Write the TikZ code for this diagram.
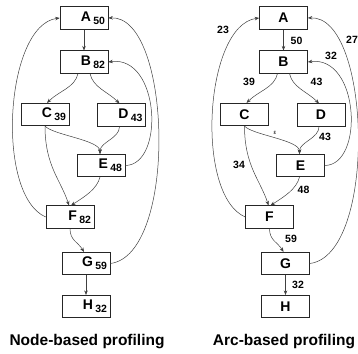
\documentclass[tikz,border=0pt]{standalone}
\usepackage{fontspec}
\setmainfont{Liberation Sans}
\usetikzlibrary{arrows.meta}
\newcommand\nsub[1]{\,\raisebox{-3pt}{\fontsize{10.5}{10.5}\selectfont #1}}
\begin{document}
\begin{tikzpicture}[x=1pt,y=-1pt,
  box/.style={draw=black!85, line width=0.6pt, minimum width=48pt, minimum height=22.5pt, inner sep=0pt, font=\fontsize{14}{14}\selectfont\bfseries},
  nbox/.style={box, text width=42pt, align=right},
  edge/.style={draw=black!75, line width=0.5pt, -{Stealth[length=4.5pt,width=3.5pt]}},
  elab/.style={font=\fontsize{10.5}{10.5}\selectfont\bfseries, inner sep=0pt},
  title/.style={font=\fontsize{15.5}{15.5}\selectfont\bfseries, inner sep=0pt}]
\useasboundingbox (0,0) rectangle (358,353);

% ---------- Node-based profiling ----------
\node[nbox] (lA) at (84,18) {A\nsub{50}};
\node[nbox] (lB) at (84,62) {B\nsub{82}};
\node[nbox] (lC) at (45,114.5) {C\nsub{39}};
\node[nbox] (lD) at (121.5,115) {D\nsub{43}};
\node[nbox] (lE) at (101,165.5) {E\nsub{48}};
\node[nbox] (lF) at (70,217) {F\nsub{82}};
\node[nbox] (lG) at (86,263.5) {G\nsub{59}};
\node[nbox] (lH) at (86,306.5) {H\nsub{32}};

\draw[edge] (lA) -- (lB);
\draw[edge] ([xshift=-6pt]lB.south) .. controls +(-3,14) and +(12,-12) .. ([xshift=2pt]lC.north);
\draw[edge] ([xshift=6pt]lB.south) .. controls +(3,14) and +(-12,-12) .. ([xshift=-2pt]lD.north);
\draw[edge] (lC.south) .. controls +(8,9) and +(0,-14) .. ([xshift=-1pt]lE.north);
\draw[edge] ([xshift=-2pt]lD.south) .. controls +(0,12) and +(0,-12) .. ([xshift=-1pt]lE.north);
\draw[edge] (lC.south) .. controls +(0,40) and +(-8,-25) .. ([xshift=-1pt]lF.north);
\draw[edge] ([xshift=-1pt]lE.south) .. controls +(-3,12) and +(14,-9) .. ([xshift=1pt]lF.north);
\draw[edge] (lF.west) .. controls (-5,195) and (5,25) .. (lA.west);
\draw[edge] (lE.east) .. controls (165,165) and (160,55) .. (lB.east);
\draw[edge] (lG.east) .. controls (178,255) and (172,15) .. (lA.east);
\draw[edge] (lF.south) .. controls +(0,12) and +(-6,-10) .. ([xshift=-2pt]lG.north);
\draw[edge] (lG) -- (lH);

\node[title] (t1) at (87,342) {Node-based profiling};

% ---------- Arc-based profiling ----------
\begin{scope}[xshift=199.5pt]
\node[box] (rA) at (84,18) {A};
\node[box] (rB) at (84,62) {B};
\node[box] (rC) at (45,114.5) {C};
\node[box] (rD) at (121.5,115) {D};
\node[box] (rE) at (101,165.5) {E};
\node[box] (rF) at (70,217) {F};
\node[box] (rG) at (86,263.5) {G};
\node[box] (rH) at (86,306.5) {H};

\draw[edge] (rA) -- (rB);
\draw[edge] ([xshift=-6pt]rB.south) .. controls +(-3,14) and +(12,-12) .. ([xshift=2pt]rC.north);
\draw[edge] ([xshift=6pt]rB.south) .. controls +(3,14) and +(-12,-12) .. ([xshift=-2pt]rD.north);
\draw[edge] (rC.south) .. controls +(8,9) and +(0,-14) .. ([xshift=-1pt]rE.north);
\draw[edge] ([xshift=-2pt]rD.south) .. controls +(0,12) and +(0,-12) .. ([xshift=-1pt]rE.north);
\draw[edge] (rC.south) .. controls +(0,40) and +(-8,-25) .. ([xshift=-1pt]rF.north);
\draw[edge] ([xshift=-1pt]rE.south) .. controls +(-3,12) and +(14,-9) .. ([xshift=1pt]rF.north);
\draw[edge] (rF.west) .. controls (-5,195) and (5,25) .. (rA.west);
\draw[edge] (rE.east) .. controls (165,165) and (160,55) .. (rB.east);
\draw[edge] (rG.east) .. controls (178,255) and (172,15) .. (rA.east);
\draw[edge] (rF.south) .. controls +(0,12) and +(-6,-10) .. ([xshift=-2pt]rG.north);
\draw[edge] (rG) -- (rH);

\node[elab] (l23) at (23.5,30) {23};
\node[elab] (l27) at (152.5,40) {27};
\node[elab] (l50) at (97,41) {50};
\node[elab] (l32a) at (131.5,56) {32};
\node[elab] (l39) at (49.5,81.5) {39};
\node[elab] (l43a) at (117,81.5) {43};
\node[inner sep=0pt, font=\fontsize{6}{6}\selectfont] (leps) at (75.5,132.5) {ε};
\node[elab] (l43b) at (125.5,137) {43};
\node[elab] (l34) at (39.5,165) {34};
\node[elab] (l48) at (104,190) {48};
\node[elab] (l59) at (91.5,238.5) {59};
\node[elab] (l32b) at (98.5,285) {32};

\node[title] (t2) at (84.5,342) {Arc-based profiling};
\end{scope}
\end{tikzpicture}
\end{document}
